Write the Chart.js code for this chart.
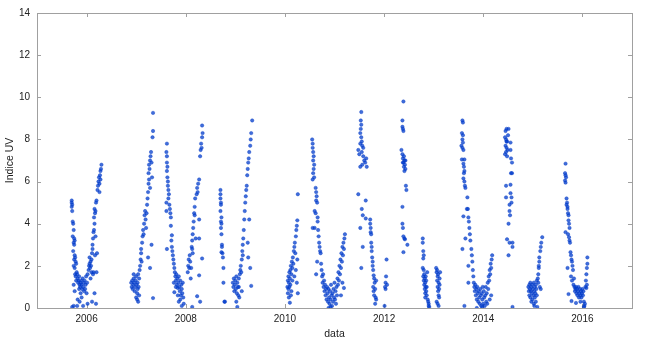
<!DOCTYPE html>
<html><head><meta charset="utf-8">
<script src="https://cdn.jsdelivr.net/npm/chart.js@4/dist/chart.umd.min.js"></script>
<style>html,body{margin:0;padding:0;background:#fff}#wrap{width:650px;height:340px}</style>
</head><body><div id="wrap"><canvas id="c" width="650" height="340"></canvas></div>
<script>
const xTicks = [2006, 2008, 2010, 2012, 2014, 2016];
const yTicks = [0, 2, 4, 6, 8, 10, 12, 14];
const xTitle = "data";
const yTitle = "Indice UV";

const s2005 = [[2005.70,5.1],[2005.70,5.0],[2005.71,4.9],[2005.70,4.8],[2005.71,4.6],[2005.72,4.1],[2005.73,4.0],[2005.74,3.7],[2005.72,3.4],[2005.75,3.3],[2005.74,3.1],[2005.76,3.2],[2005.75,3.0],[2005.73,2.7],[2005.76,2.5],[2005.77,2.4],[2005.75,2.3],[2005.78,2.2],[2005.74,2.0],[2005.76,1.9],[2005.79,2.1],[2005.80,1.7],[2005.77,1.6],[2005.78,1.5],[2005.81,1.6],[2005.82,1.4],[2005.79,1.3],[2005.74,1.1],[2005.76,0.8],[2005.71,0.05],[2005.74,0.1],[2005.83,1.2],[2005.84,1.3],[2005.85,1.5],[2005.86,1.1],[2005.87,1.0],[2005.88,1.2],[2005.85,0.9],[2005.89,1.3],[2005.90,1.1],[2005.91,0.9],[2005.92,1.4],[2005.88,0.7],[2005.93,1.0],[2005.94,1.2],[2005.95,0.8],[2005.90,0.5],[2005.82,0.4],[2005.86,0.3],[2005.96,1.3],[2005.97,0.9],[2005.98,1.1],[2005.99,1.5],[2006.00,0.7],[2006.01,1.2],[2005.93,0.1],[2005.81,0.1],[2006.02,0.2]];
const s2006 = [[2006.02,1.6],[2006.04,1.8],[2006.05,2.0],[2006.06,2.1],[2006.07,1.9],[2006.08,2.2],[2006.06,2.4],[2006.09,2.0],[2006.10,2.3],[2006.11,2.6],[2006.12,2.8],[2006.10,1.7],[2006.13,1.6],[2006.14,1.7],[2006.08,1.4],[2006.12,3.0],[2006.13,3.3],[2006.14,3.6],[2006.15,3.7],[2006.16,4.0],[2006.15,4.3],[2006.17,4.5],[2006.16,4.7],[2006.18,4.6],[2006.19,5.0],[2006.20,5.1],[2006.18,3.4],[2006.17,2.5],[2006.22,5.6],[2006.23,5.8],[2006.24,6.0],[2006.25,6.2],[2006.26,5.9],[2006.27,6.3],[2006.28,6.5],[2006.29,6.6],[2006.30,6.8],[2006.28,6.1],[2006.26,5.5],[2006.21,2.6],[2006.20,1.7],[2006.19,0.2],[2006.11,0.3],[2006.16,0.7]];
const s2007a = [[2006.90,1.2],[2006.91,1.0],[2006.92,1.3],[2006.93,0.9],[2006.94,1.1],[2006.95,1.4],[2006.96,1.2],[2006.97,0.8],[2006.98,1.0],[2006.99,1.3],[2007.00,1.5],[2007.01,1.1],[2007.02,0.7],[2007.03,1.2],[2007.04,1.6],[2007.05,1.0],[2007.06,1.4],[2007.00,0.5],[2007.02,0.4],[2007.04,0.3],[2007.06,0.6],[2007.03,0.9],[2006.95,1.6],[2007.07,1.8],[2007.08,2.0],[2007.09,2.3],[2007.10,2.6],[2007.11,2.2],[2007.10,2.8],[2007.12,3.1],[2007.13,3.4],[2007.14,3.7],[2007.15,3.5],[2007.16,4.0],[2007.17,4.4],[2007.18,4.6],[2007.19,4.2],[2007.20,3.8],[2007.21,4.5],[2007.22,4.9],[2007.23,5.2],[2007.24,5.5],[2007.25,5.9],[2007.26,6.1],[2007.25,6.4],[2007.27,6.6],[2007.26,6.8],[2007.28,7.0],[2007.29,7.2],[2007.30,7.4],[2007.31,6.9],[2007.32,6.2],[2007.33,8.1],[2007.34,8.4],[2007.34,9.26],[2007.24,2.4],[2007.28,1.9],[2007.34,0.47],[2007.31,3.0],[2007.28,5.7]];
const s2007b = [[2007.62,7.8],[2007.61,7.4],[2007.62,7.2],[2007.62,6.9],[2007.63,6.7],[2007.62,6.5],[2007.63,6.2],[2007.64,6.0],[2007.64,5.8],[2007.65,5.6],[2007.66,5.4],[2007.65,5.2],[2007.61,5.0],[2007.61,4.6],[2007.67,4.9],[2007.68,4.7],[2007.69,4.5],[2007.70,4.3],[2007.70,3.9],[2007.72,3.45],[2007.71,3.2],[2007.62,2.8],[2007.72,2.9],[2007.73,2.7],[2007.74,2.5],[2007.75,2.3],[2007.76,2.1],[2007.77,1.9],[2007.78,1.7],[2007.76,1.2],[2007.77,0.75],[2007.79,1.5],[2007.80,1.3],[2007.81,1.6],[2007.82,1.1],[2007.83,1.4],[2007.84,0.95],[2007.85,1.2],[2007.86,1.5],[2007.87,1.0],[2007.88,0.8],[2007.89,1.3],[2007.90,0.6],[2007.91,1.1],[2007.92,0.9],[2007.93,0.7],[2007.94,1.2],[2007.95,0.5],[2007.86,0.3],[2007.89,0.4],[2007.92,0.1],[2007.96,0.2],[2007.84,0.6],[2007.80,1.0]];
const s2008a = [[2008.04,1.7],[2008.05,2.0],[2008.06,2.3],[2008.07,1.9],[2008.08,2.5],[2008.09,2.2],[2008.12,2.9],[2008.13,3.2],[2008.14,3.5],[2008.15,3.8],[2008.13,2.8],[2008.16,4.1],[2008.17,4.5],[2008.18,4.8],[2008.19,5.2],[2008.18,4.4],[2008.20,3.3],[2008.22,5.4],[2008.23,5.7],[2008.25,5.9],[2008.27,6.1],[2008.24,5.5],[2008.29,7.2],[2008.30,7.5],[2008.31,7.8],[2008.32,7.6],[2008.33,8.1],[2008.34,8.3],[2008.33,8.66],[2008.33,2.35],[2008.27,1.55],[2008.23,0.56],[2008.29,0.3],[2008.13,0.05],[2008.27,4.2],[2008.27,3.3],[2008.10,1.4],[2008.11,1.9],[2008.14,2.6]];
const s2008b = [[2008.70,5.6],[2008.70,5.4],[2008.71,5.0],[2008.71,4.9],[2008.70,4.6],[2008.72,4.3],[2008.71,4.1],[2008.71,3.8],[2008.72,3.5],[2008.73,3.0],[2008.73,2.9],[2008.72,2.65],[2008.74,2.6],[2008.75,2.4],[2008.76,1.9],[2008.76,1.2],[2008.78,0.3],[2008.79,0.3],[2008.70,5.2],[2008.72,4.0]];
const s2009 = [[2008.95,1.2],[2008.96,1.0],[2008.97,1.4],[2008.98,0.8],[2008.99,1.1],[2009.00,1.3],[2009.01,0.9],[2009.02,1.5],[2009.03,0.7],[2009.04,1.2],[2009.05,1.0],[2009.06,0.6],[2009.07,1.4],[2009.08,0.5],[2009.02,0.3],[2009.04,0.05],[2009.09,1.6],[2009.10,1.8],[2009.11,2.0],[2009.12,1.7],[2009.13,2.3],[2009.14,2.7],[2009.15,3.0],[2009.16,3.3],[2009.15,2.5],[2009.17,3.7],[2009.18,4.2],[2009.19,4.6],[2009.20,5.0],[2009.21,5.3],[2009.22,5.6],[2009.23,5.8],[2009.24,6.3],[2009.25,6.6],[2009.26,6.9],[2009.27,7.1],[2009.28,7.4],[2009.30,7.7],[2009.31,8.0],[2009.32,8.3],[2009.34,8.9],[2009.26,2.4],[2009.30,1.9],[2009.32,1.05],[2009.25,3.1],[2009.28,4.2],[2009.13,0.8],[2009.07,1.0]];
const s2010a = [[2010.05,1.0],[2010.06,1.3],[2010.06,0.7],[2010.07,1.5],[2010.07,0.9],[2010.08,1.2],[2010.08,0.5],[2010.09,1.7],[2010.09,1.0],[2010.10,1.4],[2010.10,0.25],[2010.11,1.8],[2010.11,1.1],[2010.12,2.0],[2010.13,1.6],[2010.13,0.8],[2010.14,2.2],[2010.15,1.9],[2010.15,1.3],[2010.16,2.4],[2010.17,2.1],[2010.18,2.7],[2010.19,2.9],[2010.19,1.5],[2010.20,3.1],[2010.21,2.6],[2010.22,3.4],[2010.22,1.8],[2010.23,3.7],[2010.24,3.9],[2010.25,4.16],[2010.25,2.3],[2010.26,5.4],[2010.26,0.7],[2010.24,1.2],[2010.12,0.6]];
const s2010b = [[2010.55,8.0],[2010.56,7.8],[2010.56,7.6],[2010.57,7.4],[2010.58,7.2],[2010.57,7.0],[2010.59,6.8],[2010.58,6.6],[2010.57,6.4],[2010.59,6.2],[2010.56,6.1],[2010.62,5.7],[2010.63,5.5],[2010.64,5.3],[2010.63,5.1],[2010.65,5.0],[2010.60,4.6],[2010.62,4.5],[2010.66,4.3],[2010.56,3.8],[2010.60,3.8],[2010.66,4.1],[2010.67,3.7],[2010.68,3.4],[2010.69,3.1],[2010.65,2.2],[2010.63,1.6],[2010.70,2.9],[2010.71,2.7],[2010.72,2.6],[2010.73,2.1],[2010.74,1.8],[2010.75,1.5],[2010.76,1.2],[2010.77,1.6],[2010.78,1.0],[2010.79,1.3],[2010.80,0.8],[2010.81,1.1],[2010.82,0.6],[2010.83,0.9],[2010.84,0.4],[2010.85,1.0],[2010.86,0.7],[2010.87,0.3],[2010.88,0.9],[2010.89,0.5],[2010.90,0.2],[2010.91,0.8],[2010.92,0.4],[2010.93,1.1],[2010.94,0.6],[2010.95,0.1],[2010.96,0.7],[2010.97,0.3],[2010.98,0.9],[2010.99,0.5],[2011.00,1.2],[2011.01,0.4],[2011.02,0.8],[2011.03,0.2],[2011.04,1.0],[2011.05,0.6],[2010.88,0.0],[2010.92,0.05]];
const s2011a = [[2011.06,1.4],[2011.07,1.1],[2011.08,1.7],[2011.09,1.3],[2011.10,2.0],[2011.11,1.6],[2011.12,2.3],[2011.13,1.9],[2011.14,2.6],[2011.15,2.2],[2011.16,2.9],[2011.17,2.5],[2011.18,3.1],[2011.19,2.8],[2011.20,3.3],[2011.21,3.5],[2011.19,0.95],[2011.16,1.2],[2011.13,0.6]];
const s2011b = [[2011.54,9.3],[2011.53,8.9],[2011.54,8.7],[2011.53,8.5],[2011.52,8.3],[2011.54,8.1],[2011.55,7.9],[2011.56,7.7],[2011.52,7.8],[2011.48,7.5],[2011.50,7.3],[2011.55,7.4],[2011.58,7.2],[2011.64,7.1],[2011.60,7.0],[2011.62,6.9],[2011.56,6.8],[2011.65,6.7],[2011.52,6.7],[2011.58,7.6],[2011.48,5.4],[2011.63,5.1],[2011.55,4.7],[2011.57,4.4],[2011.63,4.25],[2011.52,3.8],[2011.57,2.9],[2011.54,1.9]];
const s2011c = [[2011.72,4.2],[2011.72,4.0],[2011.73,3.8],[2011.73,3.6],[2011.74,3.5],[2011.74,3.1],[2011.75,2.9],[2011.75,2.7],[2011.76,2.4],[2011.77,2.2],[2011.77,2.0],[2011.78,1.8],[2011.79,1.55],[2011.80,1.4],[2011.81,1.2],[2011.78,1.0],[2011.79,0.8],[2011.80,0.6],[2011.82,0.9],[2011.83,0.5],[2011.84,0.4],[2011.82,0.2],[2011.84,1.3],[2012.01,0.1],[2012.02,1.0],[2012.03,1.2],[2012.04,1.5],[2012.05,2.3],[2012.06,1.1],[2012.03,0.9]];
const s2012a = [[2012.39,9.8],[2012.37,8.9],[2012.37,8.6],[2012.38,8.5],[2012.39,8.4],[2012.35,7.5],[2012.37,7.3],[2012.38,7.1],[2012.40,7.2],[2012.41,7.0],[2012.39,6.9],[2012.42,6.8],[2012.40,6.7],[2012.43,6.6],[2012.41,6.5],[2012.38,6.9],[2012.44,5.8],[2012.45,5.6],[2012.37,4.8],[2012.37,4.0],[2012.38,3.8],[2012.39,3.4],[2012.41,3.3],[2012.42,3.26],[2012.39,2.65],[2012.47,3.0],[2012.43,7.0]];
const s2012b = [[2012.78,3.3],[2012.78,3.1],[2012.79,2.7],[2012.80,2.5],[2012.79,2.35],[2012.78,1.9],[2012.80,1.8],[2012.81,1.6],[2012.79,1.5],[2012.82,1.4],[2012.80,1.3],[2012.83,1.2],[2012.81,1.1],[2012.84,1.0],[2012.82,0.9],[2012.85,0.8],[2012.83,0.7],[2012.86,0.6],[2012.84,1.5],[2012.83,0.5],[2012.88,0.4],[2012.89,0.3],[2012.90,0.2],[2012.91,0.05],[2012.87,1.7],[2012.85,1.3],[2012.86,1.0],[2012.90,0.1]];
const s2013a = [[2013.05,1.9],[2013.06,1.7],[2013.07,1.8],[2013.08,1.5],[2013.07,1.3],[2013.09,1.6],[2013.10,1.2],[2013.08,1.0],[2013.11,0.9],[2013.09,0.8],[2013.12,1.4],[2013.10,0.6],[2013.11,0.5],[2013.06,0.3],[2013.08,0.2],[2013.10,0.1],[2013.13,1.7],[2013.12,1.1]];
const s2013b = [[2013.58,8.9],[2013.59,8.8],[2013.57,8.3],[2013.59,8.2],[2013.58,8.0],[2013.59,7.85],[2013.56,7.7],[2013.58,7.6],[2013.60,7.5],[2013.57,7.05],[2013.62,7.05],[2013.60,6.85],[2013.61,6.7],[2013.62,6.5],[2013.61,6.4],[2013.60,6.15],[2013.62,6.0],[2013.63,5.8],[2013.64,5.7],[2013.68,5.25],[2013.67,4.7],[2013.69,4.7],[2013.60,4.35],[2013.70,4.3],[2013.71,4.1],[2013.72,3.8],[2013.73,3.5],[2013.74,3.2],[2013.64,3.3],[2013.58,2.8],[2013.76,2.8],[2013.77,2.5],[2013.70,2.0],[2013.78,2.2],[2013.79,1.8],[2013.80,1.5],[2013.81,1.2],[2013.70,1.2],[2013.82,1.0],[2013.83,0.8],[2013.84,1.1],[2013.85,0.6],[2013.86,0.9],[2013.87,0.4],[2013.88,1.0],[2013.89,0.7],[2013.90,0.3],[2013.91,0.8],[2013.92,0.5],[2013.93,0.2],[2013.94,0.9],[2013.95,0.6],[2013.96,0.1],[2013.97,0.7],[2013.98,0.4],[2013.99,1.0],[2014.00,0.2],[2014.01,0.8],[2014.02,0.5],[2014.03,0.1],[2014.04,0.6],[2014.05,1.0],[2014.06,0.3],[2014.07,0.7],[2014.08,0.2],[2013.62,0.1],[2013.87,0.0],[2013.98,0.05]];
const s2014a = [[2014.09,1.2],[2014.10,0.9],[2014.11,1.5],[2014.12,1.3],[2014.13,1.8],[2014.14,1.6],[2014.15,2.1],[2014.16,1.9],[2014.17,2.3],[2014.18,2.5],[2014.16,0.6],[2014.13,0.4]];
const s2014b = [[2014.47,8.5],[2014.45,8.4],[2014.51,8.5],[2014.50,8.2],[2014.44,8.1],[2014.46,8.0],[2014.48,7.9],[2014.45,7.7],[2014.47,7.6],[2014.49,7.5],[2014.46,7.4],[2014.44,7.3],[2014.48,7.2],[2014.55,7.85],[2014.55,7.5],[2014.56,7.1],[2014.58,6.9],[2014.56,6.4],[2014.58,6.4],[2014.46,5.8],[2014.55,5.85],[2014.55,5.45],[2014.57,5.25],[2014.46,5.25],[2014.57,5.0],[2014.53,4.9],[2014.53,4.6],[2014.54,4.4],[2014.51,4.0],[2014.48,3.26],[2014.53,3.1],[2014.59,3.1],[2014.59,2.9],[2014.51,2.5],[2014.59,0.05],[2014.47,7.9]];
const s2015a = [[2014.91,1.0],[2014.92,0.8],[2014.93,1.1],[2014.93,0.6],[2014.94,0.9],[2014.95,1.2],[2014.95,0.5],[2014.96,0.8],[2014.97,1.0],[2014.97,0.3],[2014.98,0.7],[2014.99,1.1],[2014.99,0.4],[2015.00,0.9],[2015.01,0.6],[2015.02,1.2],[2015.02,0.2],[2015.03,0.8],[2015.04,1.0],[2015.04,0.5],[2015.05,0.7],[2015.06,1.1],[2015.06,0.3],[2015.07,0.9],[2015.08,0.6],[2015.09,0.05],[2015.08,1.3],[2015.10,1.4],[2015.11,1.2],[2015.11,1.6],[2015.12,1.9],[2015.12,2.0],[2015.13,2.2],[2015.13,2.4],[2015.14,1.0],[2015.15,2.7],[2015.16,2.9],[2015.17,3.1],[2015.19,3.36],[2015.16,0.9],[2015.03,0.1]];
const s2015b = [[2015.66,6.85],[2015.65,6.4],[2015.66,6.3],[2015.67,6.2],[2015.65,6.05],[2015.66,5.95],[2015.68,5.2],[2015.69,5.0],[2015.68,4.9],[2015.70,4.8],[2015.70,4.7],[2015.71,4.5],[2015.72,4.4],[2015.72,4.16],[2015.73,4.0],[2015.74,3.8],[2015.66,3.6],[2015.71,3.5],[2015.73,3.36],[2015.74,3.2],[2015.75,3.1],[2015.76,2.65],[2015.77,2.5],[2015.78,2.3],[2015.79,2.2],[2015.80,2.0],[2015.81,1.8],[2015.70,1.9],[2015.77,1.5],[2015.79,1.3],[2015.82,1.1],[2015.83,1.4],[2015.84,1.0],[2015.85,0.8],[2015.86,0.9],[2015.87,1.0],[2015.88,0.7],[2015.89,0.9],[2015.90,0.6],[2015.91,0.8],[2015.92,1.0],[2015.93,0.5],[2015.94,0.7],[2015.95,0.9],[2015.96,0.6],[2015.97,0.8],[2015.98,0.5],[2015.99,0.7],[2016.00,0.9],[2016.01,0.6],[2016.02,0.8],[2016.03,0.3],[2016.04,0.1],[2016.05,0.2],[2016.03,0.05],[2015.72,0.66],[2015.78,0.33],[2015.87,0.24],[2015.96,0.3],[2016.06,1.0],[2016.07,1.3],[2016.08,1.6],[2016.09,1.9],[2016.10,2.1],[2016.10,2.4],[2016.09,1.1],[2016.08,0.95]];

const seasons = [s2005,s2006,s2007a,s2007b,s2008a,s2008b,s2009,s2010a,s2010b,s2011a,s2011b,s2011c,s2012a,s2012b,s2013a,s2013b,s2014a,s2014b,s2015a,s2015b];
const points = seasons.flat().map(([x,y]) => ({x, y}));

const FONT = "'Liberation Sans', Arial, sans-serif";
const frameColor = '#a0a0a0';

const framePlugin = {
  id: 'frame',
  beforeDatasetsDraw(chart) {
    const {ctx, chartArea: a, scales: {x, y}} = chart;
    ctx.save();
    ctx.strokeStyle = frameColor;
    ctx.lineWidth = 1;
    ctx.strokeRect(Math.round(a.left)+0.5, Math.round(a.top)+0.5, Math.round(a.right-a.left), Math.round(a.bottom-a.top));
    ctx.beginPath();
    const L = 4;
    xTicks.forEach(v => {
      const px = Math.round(x.getPixelForValue(v)) + 0.5;
      ctx.moveTo(px, a.bottom); ctx.lineTo(px, a.bottom - L);
      ctx.moveTo(px, a.top); ctx.lineTo(px, a.top + L);
    });
    yTicks.forEach(v => {
      const py = Math.round(y.getPixelForValue(v)) + 0.5;
      ctx.moveTo(a.left, py); ctx.lineTo(a.left + L, py);
      ctx.moveTo(a.right, py); ctx.lineTo(a.right - L, py);
    });
    ctx.stroke();
    ctx.restore();
  }
};

new Chart(document.getElementById('c'), {
  type: 'scatter',
  data: { datasets: [{
    data: points,
    pointRadius: 1.7,
    pointHoverRadius: 1.7,
    pointBackgroundColor: 'rgba(0,62,205,0.75)',
    pointBorderColor: 'rgba(0,55,195,0.8)',
    pointBorderWidth: 0.5
  }]},
  options: {
    responsive: false,
    animation: false,
    events: [],
    layout: { padding: { left: 0, right: 18, top: 12, bottom: 0 } },
    plugins: { legend: { display: false }, tooltip: { enabled: false } },
    scales: {
      x: {
        type: 'linear', min: 2005, max: 2017,
        afterBuildTicks: s => { s.ticks = xTicks.map(v => ({value: v})); },
        afterFit: s => { s.height = 32; },
        grid: { display: false, drawTicks: false },
        border: { display: false },
        ticks: { color: '#222', font: { family: FONT, size: 10 }, padding: 5, maxRotation: 0, callback: v => String(v) },
        title: { display: true, text: xTitle, color: '#222', font: { family: FONT, size: 10.5 }, padding: { top: 1, bottom: 0 } }
      },
      y: {
        min: 0, max: 14,
        afterBuildTicks: s => { s.ticks = yTicks.map(v => ({value: v})); },
        afterFit: s => { s.width = 37; },
        grid: { display: false, drawTicks: false },
        border: { display: false },
        ticks: { color: '#222', font: { family: FONT, size: 10 }, padding: 7, callback: v => String(v) },
        title: { display: true, text: yTitle, color: '#222', font: { family: FONT, size: 10.5 }, padding: { top: 4, bottom: 4 } }
      }
    }
  },
  plugins: [framePlugin]
});
</script></body></html>
